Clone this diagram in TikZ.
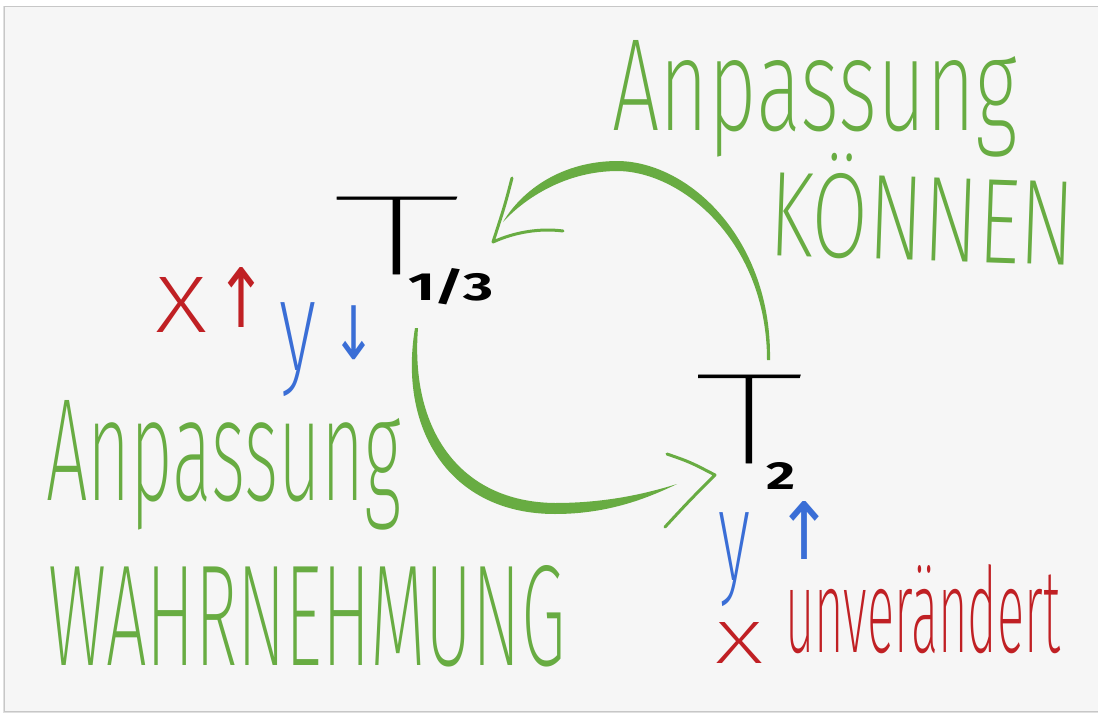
\documentclass[tikz,border=0pt]{standalone}
\usepackage{fontspec}
\usepackage{graphicx}
\setmainfont{Fira Sans}
\newfontfamily\handfont{Fira Sans ExtraLight}
\newfontfamily\tfont{Fira Sans Thin}[FakeBold=0.5]
\newfontfamily\symfont{DejaVu Sans}
\definecolor{hgreen}{RGB}{104,172,66}
\definecolor{hred}{RGB}{192,32,36}
\definecolor{hblue}{RGB}{58,110,214}
\definecolor{cardbg}{RGB}{246,246,246}
\begin{document}
\begin{tikzpicture}[x=1pt,y=-1pt,
  txt/.style={inner sep=0pt,outer sep=0pt,anchor=base west},
  ctr/.style={inner sep=0pt,outer sep=0pt,anchor=center},
  headline/.style={draw=hgreen,line width=3pt,line cap=round,line join=round},
  arcfill/.style={fill=hgreen}]
\useasboundingbox (0,0) rectangle (1098,717);
\fill[white] (0,0) rectangle (1098,717);
\fill[black!12] (2.5,6) rectangle (1098,713);
\fill[cardbg,draw=black!22,line width=0.8pt] (4.5,6) rectangle (1100,711);

% titles
\node[txt,text=hgreen] (ank) at (612,130) {\resizebox{405pt}{90pt}{\handfont Anpassung}};
\node[txt,text=hgreen,rotate=-2] (kon) at (768,255) {\resizebox{305pt}{104pt}{\handfont KÖNNEN}};
\node[txt,text=hgreen] (anw) at (46,500) {\resizebox{355pt}{100pt}{\handfont Anpassung}};
\node[txt,text=hgreen] (wah) at (48,665) {\resizebox{517pt}{100pt}{\handfont WAHRNEHMUNG}};

% T 1/3 (one text)
\node[txt] (t13) at (333,274) {\resizebox{127pt}{77pt}{\tfont T}\hspace{-52pt}\raisebox{-26pt}{\resizebox{85pt}{32pt}{\bfseries 1/3}}};
% T 2 (one text)
\node[txt] (t2) at (695,463) {\resizebox{108pt}{88pt}{\tfont T}\hspace{-37pt}\raisebox{-26pt}{\resizebox{29pt}{27pt}{\bfseries 2}}};

% left annotations
\node[txt,text=hred] (xl) at (155,332) {\resizebox{52pt}{55pt}{\handfont x}};
\node[ctr,text=hred] (xup) at (241,297) {\resizebox*{52pt}{60pt}{\symfont ↑}};
\node[ctr,text=hblue] (yl) at (298,350) {\resizebox*{37pt}{94pt}{\handfont y}};
\node[ctr,text=hblue] (ydown) at (354,333) {\resizebox*{45pt}{54pt}{\symfont ↓}};

% right annotations
\node[ctr,text=hblue] (yr) at (734,560) {\resizebox*{32pt}{94pt}{\handfont y}};
\node[ctr,text=hblue] (yup) at (804,530) {\resizebox*{58pt}{58pt}{\symfont ↑}};
\node[txt,text=hred] (xr) at (715,663) {\resizebox{48pt}{41pt}{\handfont x}};
\node[txt,text=hred] (unv) at (785,652) {\resizebox{275pt}{88pt}{\handfont unverändert}};

% upper arrow (T2 -> T1/3)
\coordinate (ua0) at (770,360);
\coordinate (uatip) at (493,242);
\fill[arcfill] (ua0) .. controls (772,240) and (690,162) .. (618,161)
  .. controls (562,161) and (522,190) .. (503,222)
  .. controls (525,198) and (566,171) .. (618,171)
  .. controls (684,172) and (767,244) .. (767,360) -- cycle;
\draw[headline] (512,178) .. controls (505,205) .. (uatip)
  .. controls (515,232) and (540,228) .. (563,231);

% lower arrow (T1/3 -> T2)
\coordinate (la0) at (415,328);
\coordinate (latip) at (715,475);
\fill[arcfill] (la0) .. controls (398,430) and (450,514) .. (555,514)
  .. controls (610,514) and (650,497) .. (677,484)
  .. controls (645,494) and (605,503) .. (555,503)
  .. controls (460,502) and (410,430) .. (418,328) -- cycle;
\draw[headline] (667,454) .. controls (690,462) .. (latip)
  .. controls (690,500) .. (665,527);
\end{tikzpicture}
\end{document}
